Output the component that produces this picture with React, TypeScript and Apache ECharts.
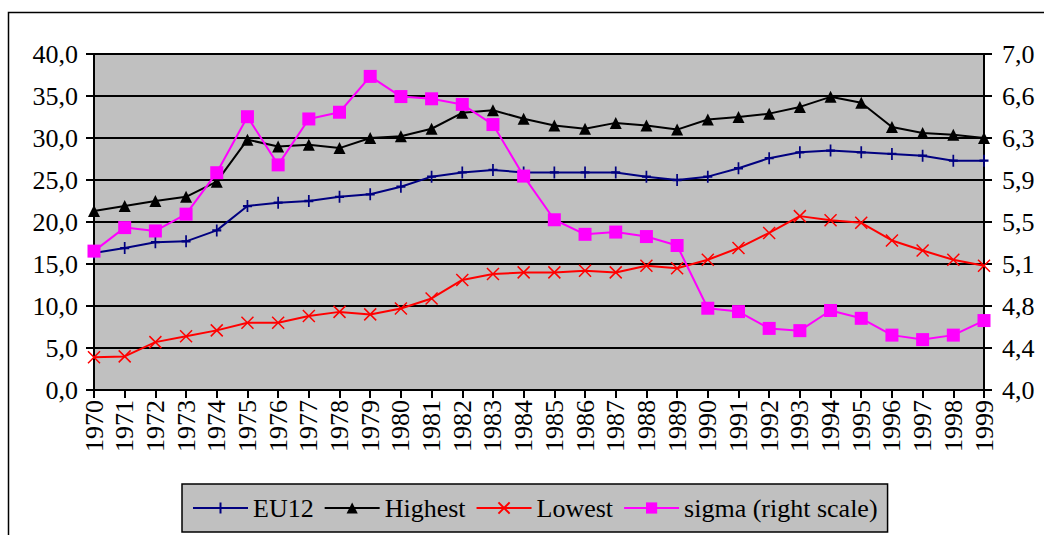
import React, { useEffect, useRef } from "react";
import * as echarts from "echarts";

const years: string[] = [
  "1970", "1971", "1972", "1973", "1974", "1975", "1976", "1977", "1978", "1979",
  "1980", "1981", "1982", "1983", "1984", "1985", "1986", "1987", "1988", "1989",
  "1990", "1991", "1992", "1993", "1994", "1995", "1996", "1997", "1998", "1999",
];

const eu12: number[] = [
  16.3, 16.9, 17.6, 17.7, 19.0, 21.9, 22.3, 22.5, 23.0, 23.3,
  24.2, 25.4, 25.9, 26.2, 25.9, 25.9, 25.9, 25.9, 25.4, 25.0,
  25.4, 26.4, 27.6, 28.3, 28.5, 28.3, 28.1, 27.9, 27.3, 27.3,
];

const highest: number[] = [
  21.3, 21.9, 22.5, 23.0, 24.8, 29.8, 29.0, 29.2, 28.8, 30.0,
  30.2, 31.1, 33.0, 33.3, 32.3, 31.5, 31.1, 31.8, 31.5, 31.0,
  32.2, 32.5, 32.9, 33.7, 34.9, 34.2, 31.3, 30.6, 30.4, 30.0,
];

const lowest: number[] = [
  3.9, 4.0, 5.7, 6.4, 7.1, 8.0, 8.0, 8.8, 9.3, 9.0,
  9.7, 10.9, 13.1, 13.8, 14.0, 14.0, 14.2, 14.0, 14.8, 14.5,
  15.5, 16.9, 18.7, 20.7, 20.2, 19.9, 17.8, 16.6, 15.5, 14.8,
];

const sigma: number[] = [
  5.24, 5.45, 5.42, 5.57, 5.94, 6.44, 6.01, 6.42, 6.48, 6.80,
  6.62, 6.60, 6.55, 6.37, 5.91, 5.52, 5.39, 5.41, 5.37, 5.29,
  4.73, 4.70, 4.55, 4.53, 4.71, 4.64, 4.49, 4.45, 4.49, 4.62,
];

const rightTicks: number[] = [4, 4.375, 4.75, 5.125, 5.5, 5.875, 6.25, 6.625, 7];

const seriesNames: string[] = ["EU12", "Highest", "Lowest", "sigma (right scale)"];

const FONT = "'Liberation Serif', 'Times New Roman', serif";
const fmt = (v: number) => v.toFixed(1).replace(".", ",");

export default function App() {
  const ref = useRef<HTMLDivElement>(null);

  useEffect(() => {
    if (!ref.current) return;
    const chart = echarts.init(ref.current, undefined, { renderer: "svg" });
    const labelStyle = { color: "#000", fontFamily: FONT, fontSize: 26 };
    chart.setOption({
      animation: false,
      textStyle: { fontFamily: FONT, color: "#000" },
      graphic: [
        {
          type: "rect",
          shape: { x: 8.5, y: 12.5, width: 1200, height: 700 },
          style: { fill: "none", stroke: "#000", lineWidth: 1.5 },
          silent: true,
        },
      ],
      grid: {
        left: 94,
        right: 60,
        top: 54,
        bottom: 145,
        show: true,
        backgroundColor: "#c0c0c0",
        borderWidth: 0,
      },
      legend: {
        left: 182,
        top: 484,
        orient: "horizontal",
        padding: [11, 10],
        itemGap: 10,
        itemWidth: 55,
        itemHeight: 14,
        backgroundColor: "#c0c0c0",
        borderColor: "#000",
        borderWidth: 1.5,
        borderRadius: 0,
        textStyle: { ...labelStyle },
        data: seriesNames,
      },
      xAxis: {
        type: "category",
        data: years,
        boundaryGap: false,
        axisLine: { show: true, lineStyle: { color: "#000", width: 2 } },
        axisTick: { show: true, length: 8, interval: 0, lineStyle: { color: "#000", width: 2 } },
        axisLabel: { ...labelStyle, rotate: 90, interval: 0, margin: 10 },
        splitLine: { show: false },
      },
      yAxis: [
        {
          type: "value",
          min: 0,
          max: 40,
          interval: 5,
          position: "left",
          axisLine: { show: true, lineStyle: { color: "#000", width: 2 } },
          axisTick: { show: true, length: 8, lineStyle: { color: "#000", width: 2 } },
          axisLabel: { ...labelStyle, margin: 16, formatter: (v: number) => fmt(v) },
          splitLine: { show: true, lineStyle: { color: "#000", width: 2 } },
        },
        {
          type: "value",
          min: 4,
          max: 7,
          position: "right",
          axisLine: { show: true, lineStyle: { color: "#000", width: 2 } },
          axisTick: {
            show: true,
            length: 8,
            customValues: rightTicks,
            lineStyle: { color: "#000", width: 2 },
          },
          axisLabel: {
            ...labelStyle,
            margin: 18,
            customValues: rightTicks,
            formatter: (v: number) => fmt(v),
          },
          splitLine: { show: false },
        },
      ],
      series: [
        {
          name: seriesNames[0],
          type: "line",
          data: eu12,
          yAxisIndex: 0,
          symbol: "path://M5,0L5,10M0,5L10,5",
          symbolSize: [9, 12],
          lineStyle: { color: "#000080", width: 2 },
          itemStyle: { color: "#000080", borderColor: "#000080", borderWidth: 2 },
        },
        {
          name: seriesNames[1],
          type: "line",
          data: highest,
          yAxisIndex: 0,
          symbol: "triangle",
          symbolSize: 12,
          lineStyle: { color: "#000", width: 2 },
          itemStyle: { color: "#000" },
        },
        {
          name: seriesNames[2],
          type: "line",
          data: lowest,
          yAxisIndex: 0,
          symbol: "path://M0,0L10,10M10,0L0,10",
          symbolSize: 12,
          lineStyle: { color: "#ff0000", width: 2 },
          itemStyle: { color: "#ff0000", borderColor: "#ff0000", borderWidth: 1.5 },
        },
        {
          name: seriesNames[3],
          type: "line",
          data: sigma,
          yAxisIndex: 1,
          symbol: "rect",
          symbolSize: 13,
          lineStyle: { color: "#ff00ff", width: 2 },
          itemStyle: { color: "#ff00ff" },
        },
      ],
    });
    return () => chart.dispose();
  }, []);

  return (
    <div
      ref={ref}
      style={{ position: "fixed", left: 0, top: 0, width: 1044, height: 535, background: "#fff" }}
    />
  );
}
